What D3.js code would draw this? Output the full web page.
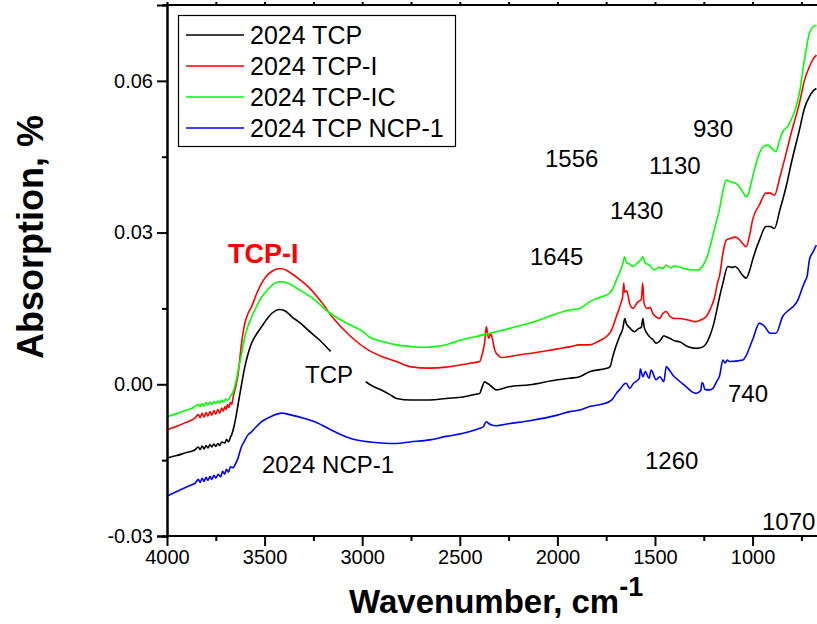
<!DOCTYPE html>
<html>
<head>
<meta charset="utf-8">
<script src="https://cdn.jsdelivr.net/npm/d3@7/dist/d3.min.js"></script>
<style>
  html, body { margin: 0; padding: 0; background: #fff; }
  svg { display: block; font-family: "Liberation Sans", Arial, sans-serif; }
</style>
</head>
<body>
<svg id="chart" width="817" height="624"></svg>
<script>
// FTIR spectra: wavenumber (cm^-1) and absorption for each sample
const seriesNames = ["2024 TCP", "2024 TCP-I", "2024 TCP-IC", "2024 TCP NCP-1"];
const seriesColors = ["#000000", "#ff0000", "#00ff00", "#0000ff"];

const wnTCP = [4000,3950,3900,3870,3857,3840,3830,3820,3810,3800,3790,3780,3770,3760,3750,3740,3730,3720,3703,3695,3685,3675,3669,3652,
  3635,3618,3601,3585,3567,3540,3515,3490,3464,3422,3390,3362,3320,3277,3220,3162,
  3160,
  2982,2950,2910,2860,2824,2750,2654,2570,2483,2420,2398,2385,2373,2360,2347,2330,2313,2250,2142,2000,1937,1886,1835,1742,1730,1716,1700,1682,1665,1655,1647,1630,1605,1585,1570,1562,1555,1530,1510,1494,1470,1455,1442,1420,1400,1374,1330,1289,1254,1237,1215,1203,1187,1169,1152,1127,1100,1090,1076,1050,1033,1015,1000,965,931,910,888,860,828,800,760,735,709,690,673];
const absTCP = [-0.0146,-0.0141,-0.0135,-0.0132,-0.0130,-0.0124,-0.0129,-0.0122,-0.0128,-0.0121,-0.0126,-0.0119,-0.0124,-0.0118,-0.0123,-0.0117,-0.0121,-0.0114,-0.0116,-0.0109,-0.0114,-0.0105,-0.0100,-0.0075,
  -0.0038,0.0000,0.0035,0.0060,0.0081,0.0100,0.0114,0.0128,0.0140,0.0148,0.0144,0.0134,0.0122,0.0107,0.0088,0.0065,
  null,
  0.0005,-0.0003,-0.0010,-0.0020,-0.0028,-0.0031,-0.0031,-0.0028,-0.0025,-0.0020,-0.0018,-0.0005,0.0005,0.0002,-0.0001,-0.0007,-0.0011,-0.0005,-0.0001,0.0009,0.0012,0.0015,0.0025,0.0032,0.0035,0.0055,0.0075,0.0094,0.0110,0.0130,0.0120,0.0112,0.0104,0.0110,0.0113,0.0130,0.0112,0.0095,0.0088,0.0081,0.0088,0.0096,0.0094,0.0090,0.0086,0.0084,0.0074,0.0071,0.0074,0.0081,0.0100,0.0114,0.0140,0.0173,0.0200,0.0233,0.0231,0.0233,0.0229,0.0215,0.0210,0.0225,0.0246,0.0285,0.0312,0.0312,0.0308,0.0345,0.0391,0.0440,0.0503,0.0545,0.0569,0.0580,0.0585];

const wnTCPI = [4000,3950,3900,3870,3857,3840,3830,3820,3810,3800,3790,3780,3770,3760,3750,3740,3730,3720,3712,3703,3697,3690,3683,3675,3668,3661,3648,
  3635,3620,3601,3585,3567,3540,3515,3490,3464,3422,3390,3362,3320,3277,3210,3149,3060,2961,2900,2824,2756,2654,2570,2500,2440,2398,2385,2372,2364,2357,2351,2343,2338,2321,2300,2287,2200,2142,2000,1937,1886,1835,1790,1750,1725,1698,1675,1665,1660,1656,1645,1630,1613,1590,1570,1563,1556,1540,1525,1511,1490,1477,1460,1442,1425,1400,1374,1330,1289,1260,1237,1215,1194,1180,1169,1152,1135,1110,1090,1076,1050,1033,1015,1000,965,931,910,888,860,828,800,760,735,709,690,673];
const absTCPI = [-0.0090,-0.0083,-0.0075,-0.0070,-0.0067,-0.0060,-0.0066,-0.0057,-0.0065,-0.0056,-0.0063,-0.0054,-0.0061,-0.0052,-0.0059,-0.0050,-0.0057,-0.0047,-0.0053,-0.0044,-0.0050,-0.0040,-0.0046,-0.0036,-0.0040,-0.0025,-0.0005,
  0.0022,0.0075,0.0121,0.0140,0.0153,0.0180,0.0200,0.0214,0.0223,0.0229,0.0226,0.0219,0.0207,0.0193,0.0163,0.0131,0.0095,0.0066,0.0055,0.0045,0.0035,0.0032,0.0034,0.0038,0.0042,0.0045,0.0060,0.0085,0.0114,0.0098,0.0091,0.0100,0.0097,0.0068,0.0056,0.0053,0.0058,0.0061,0.0070,0.0074,0.0078,0.0078,0.0085,0.0094,0.0105,0.0134,0.0160,0.0175,0.0200,0.0182,0.0185,0.0160,0.0150,0.0162,0.0168,0.0200,0.0160,0.0150,0.0152,0.0140,0.0132,0.0130,0.0140,0.0144,0.0135,0.0130,0.0130,0.0127,0.0124,0.0128,0.0134,0.0150,0.0173,0.0200,0.0215,0.0259,0.0285,0.0289,0.0291,0.0289,0.0278,0.0272,0.0295,0.0325,0.0355,0.0378,0.0378,0.0374,0.0410,0.0457,0.0500,0.0556,0.0600,0.0628,0.0643,0.0651];

const wnTCPIC = [4000,3950,3900,3870,3857,3840,3830,3820,3810,3800,3790,3780,3770,3760,3750,3740,3729,3720,3710,3700,3690,3675,3661,3648,
  3635,3618,3601,3585,3565,3540,3514,3480,3447,3417,3380,3335,3253,3166,3080,2995,2961,2900,2824,2756,2690,2620,2569,2500,2400,2313,2142,1937,1886,1835,1780,1733,1715,1698,1680,1665,1656,1645,1630,1613,1590,1575,1562,1550,1530,1502,1480,1460,1442,1420,1400,1374,1340,1306,1280,1254,1230,1203,1187,1170,1161,1150,1135,1110,1090,1076,1050,1033,1020,1008,990,965,945,923,900,880,865,846,820,803,780,760,735,709,690,673];
const absTCPIC = [-0.0064,-0.0058,-0.0051,-0.0047,-0.0044,-0.0040,-0.0044,-0.0038,-0.0043,-0.0036,-0.0041,-0.0035,-0.0040,-0.0034,-0.0038,-0.0033,-0.0037,-0.0031,-0.0035,-0.0029,-0.0032,-0.0024,-0.0015,0.0003,
  0.0028,0.0060,0.0094,0.0115,0.0134,0.0155,0.0173,0.0189,0.0200,0.0203,0.0200,0.0190,0.0170,0.0141,0.0121,0.0104,0.0093,0.0085,0.0078,0.0075,0.0073,0.0075,0.0078,0.0087,0.0096,0.0104,0.0121,0.0147,0.0150,0.0163,0.0172,0.0180,0.0190,0.0206,0.0222,0.0238,0.0252,0.0240,0.0238,0.0233,0.0240,0.0245,0.0252,0.0240,0.0236,0.0226,0.0232,0.0229,0.0236,0.0230,0.0234,0.0232,0.0228,0.0226,0.0226,0.0235,0.0255,0.0295,0.0320,0.0345,0.0364,0.0385,0.0404,0.0400,0.0398,0.0394,0.0380,0.0371,0.0378,0.0397,0.0425,0.0457,0.0470,0.0473,0.0466,0.0460,0.0478,0.0499,0.0510,0.0523,0.0545,0.0576,0.0640,0.0694,0.0707,0.0710];

const wnNCP = [4000,3950,3900,3870,3857,3840,3830,3820,3810,3800,3790,3780,3770,3760,3750,3737,3725,3715,3705,3695,3685,3675,3661,3650,3640,3618,
  3600,3585,3567,3540,3515,3490,3464,3413,3362,3300,3243,3140,3050,2961,2900,2824,2756,2654,2570,2483,2398,2380,2364,2350,2340,2313,2250,2142,2000,1937,1886,1835,1780,1733,1715,1698,1675,1660,1647,1630,1610,1596,1580,1575,1562,1550,1530,1520,1494,1475,1455,1442,1430,1408,1380,1340,1310,1289,1265,1260,1254,1245,1220,1203,1185,1169,1152,1140,1130,1118,1050,1000,965,940,910,880,846,820,794,770,743,730,720,709,690,673];
const absNCP = [-0.0221,-0.0212,-0.0203,-0.0198,-0.0196,-0.0188,-0.0194,-0.0186,-0.0192,-0.0184,-0.0190,-0.0182,-0.0188,-0.0180,-0.0185,-0.0178,-0.0183,-0.0172,-0.0178,-0.0168,-0.0174,-0.0163,-0.0165,-0.0158,-0.0150,-0.0123,
  -0.0110,-0.0100,-0.0094,-0.0083,-0.0074,-0.0068,-0.0063,-0.0057,-0.0061,-0.0067,-0.0074,-0.0094,-0.0108,-0.0114,-0.0116,-0.0117,-0.0114,-0.0110,-0.0103,-0.0097,-0.0087,-0.0084,-0.0074,-0.0078,-0.0080,-0.0082,-0.0078,-0.0072,-0.0061,-0.0054,-0.0051,-0.0044,-0.0040,-0.0034,-0.0028,-0.0018,-0.0008,0.0000,0.0002,-0.0008,0.0002,0.0006,0.0012,0.0030,0.0015,0.0025,0.0012,0.0028,0.0009,0.0015,0.0005,0.0035,0.0030,0.0018,0.0008,-0.0005,-0.0015,-0.0018,-0.0012,0.0003,0.0002,-0.0010,-0.0011,-0.0008,0.0005,0.0017,0.0048,0.0042,0.0048,0.0045,0.0048,0.0088,0.0121,0.0115,0.0101,0.0101,0.0134,0.0145,0.0153,0.0165,0.0193,0.0205,0.0215,0.0246,0.0262,0.0275];

// Axis ticks
const xMajorTicks = [4000, 3500, 3000, 2500, 2000, 1500, 1000];
const xMinorTicks = [3750, 3250, 2750, 2250, 1750, 1250, 750];
const yMajorTicks = [-0.03, 0.00, 0.03, 0.06];
const yMinorTicks = [-0.015, 0.015, 0.045];

// Peak and curve labels, placed in pixel positions
const annotations = [
  { text: "930",  x: 693, y: 137 },
  { text: "1556", x: 545, y: 167 },
  { text: "1130", x: 649, y: 174 },
  { text: "1430", x: 610, y: 219 },
  { text: "1645", x: 530, y: 265 },
  { text: "TCP",  x: 305, y: 383 },
  { text: "740",  x: 728, y: 402 },
  { text: "2024 NCP-1", x: 262, y: 473 },
  { text: "1260", x: 645, y: 469 },
  { text: "1070", x: 762, y: 530 }
];

const spectra = [
  { name: seriesNames[0], color: seriesColors[0], wn: wnTCP,   ab: absTCP },
  { name: seriesNames[1], color: seriesColors[1], wn: wnTCPI,  ab: absTCPI },
  { name: seriesNames[2], color: seriesColors[2], wn: wnTCPIC, ab: absTCPIC },
  { name: seriesNames[3], color: seriesColors[3], wn: wnNCP,   ab: absNCP }
];

const svg = d3.select("#chart");
const plotLeft = 167, plotRight = 817, plotTop = 5, plotBottom = 536;

const x = d3.scaleLinear().domain([4000, 670]).range([plotLeft, plotRight]);
const y = d3.scaleLinear().domain([-0.03, 0.075]).range([plotBottom, plotTop]);

svg.append("defs").append("clipPath").attr("id", "plotClip")
  .append("rect").attr("x", plotLeft).attr("y", plotTop)
  .attr("width", plotRight - plotLeft).attr("height", plotBottom - plotTop);

// Spectra lines (blue, black, red, then green on top)
const line = d3.line()
  .defined(d => d[1] !== null)
  .x(d => x(d[0]))
  .y(d => y(d[1]))
  .curve(d3.curveMonotoneX);

const plot = svg.append("g").attr("clip-path", "url(#plotClip)");
[3, 0, 1, 2].forEach(i => {
  const s = spectra[i];
  const pts = s.wn.map((w, k) => [w, s.ab[k]]);
  plot.append("path")
    .datum(pts)
    .attr("fill", "none")
    .attr("stroke", s.color)
    .attr("stroke-width", 1.6)
    .attr("stroke-linejoin", "round")
    .attr("d", line);
});

// Axes
const axisFont = 20;
const gx = svg.append("g").attr("transform", `translate(0,${plotBottom})`)
  .call(d3.axisBottom(x).tickValues(xMajorTicks).tickSize(10).tickPadding(4).tickFormat(d3.format("d")));
gx.append("g").call(d3.axisBottom(x).tickValues(xMinorTicks).tickSize(5).tickFormat(""));

const gy = svg.append("g").attr("transform", `translate(${plotLeft},0)`)
  .call(d3.axisLeft(y).tickValues(yMajorTicks).tickSize(10).tickPadding(4).tickFormat(d => d.toFixed(2)));
gy.append("g").call(d3.axisLeft(y).tickValues(yMinorTicks).tickSize(5).tickFormat(""));

const gt = svg.append("g").attr("transform", `translate(0,${plotTop})`)
  .call(d3.axisTop(x).tickValues(xMajorTicks.concat(xMinorTicks)).tickSize(3).tickFormat(""));

[gx, gy, gt].forEach(g => {
  g.selectAll("path.domain").attr("stroke", "#000").attr("stroke-width", 2);
  g.selectAll("line").attr("stroke", "#000").attr("stroke-width", 2);
  g.selectAll("text").attr("fill", "#000").style("font-size", axisFont + "px")
    .style("font-family", "'Liberation Sans', Arial, sans-serif");
});
gx.selectAll("path.domain").attr("d", `M${plotLeft},0H${plotRight}`);
gt.selectAll("path.domain").attr("d", `M${plotLeft - 4},0H${plotRight}`);

// Axis titles
svg.append("text")
  .attr("transform", `translate(43,237) rotate(-90)`)
  .attr("text-anchor", "middle")
  .style("font-size", "36px").style("font-weight", "bold")
  .text("Absorption, %");

const xt = svg.append("text")
  .attr("x", 349).attr("y", 613)
  .style("font-size", "33px").style("font-weight", "bold");
xt.append("tspan").text("Wavenumber, cm");
xt.append("tspan").attr("dy", -17).style("font-size", "27px").text("-1");

// Legend
const lg = svg.append("g");
lg.append("rect").attr("x", 178.5).attr("y", 15.5).attr("width", 277).attr("height", 131)
  .attr("fill", "#fff").attr("stroke", "#000").attr("stroke-width", 1.2);
const rowY = [35, 66, 97, 128];
spectra.forEach((s, i) => {
  lg.append("line").attr("x1", 186).attr("x2", 244).attr("y1", rowY[i]).attr("y2", rowY[i])
    .attr("stroke", s.color).attr("stroke-width", 1.6);
  lg.append("text").attr("x", 250).attr("y", rowY[i] + 9)
    .style("font-size", "25px").text(s.name);
});

// Annotations
annotations.forEach(a => {
  svg.append("text").attr("x", a.x).attr("y", a.y)
    .style("font-size", "24px").attr("fill", "#000").text(a.text);
});
svg.append("text").attr("x", 228).attr("y", 263)
  .style("font-size", "27px").style("font-weight", "bold").attr("fill", "#ff0000").text("TCP-I");
</script>
</body>
</html>
